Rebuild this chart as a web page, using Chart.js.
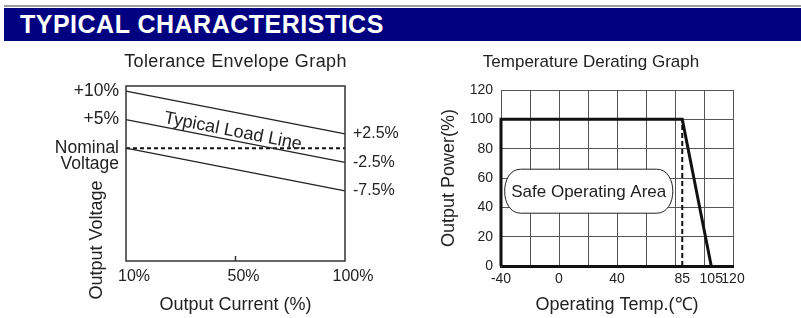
<!DOCTYPE html>
<html>
<head>
<meta charset="utf-8">
<script src="https://cdn.jsdelivr.net/npm/chart.js@4.4.1/dist/chart.umd.min.js"></script>
<style>
    html, body { margin: 0; padding: 0; background: #fff; }
    body { width: 801px; height: 318px; position: relative; overflow: hidden; font-family: "Liberation Sans", Arial, sans-serif; }
    .rule { position: absolute; left: 4px; top: 5px; width: 797px; height: 2px; background: #9c9c9c; }
    .banner { position: absolute; left: 4px; top: 8px; width: 797px; height: 33px; background: #000080; color: #fff;
              font-weight: bold; font-size: 25px; line-height: 33px; padding-left: 16px; box-sizing: border-box; letter-spacing: 0.5px; }
    .panel { position: absolute; top: 45px; }
    #toleranceChart { left: 0; }
    #deratingChart { left: 430px; }
</style>
</head>
<body>
<div class="rule"></div>
<div class="banner">TYPICAL CHARACTERISTICS</div>
<canvas id="toleranceChart" class="panel" width="400" height="273"></canvas>
<canvas id="deratingChart" class="panel" width="371" height="273"></canvas>

<script>
// Tolerance envelope data
const currentLabels = ['10%', '50%', '100%'];
const upperLimit = [10, null, 2.5];
const loadLine = [5, null, -2.5];
const lowerLimit = [0, null, -7.5];
const nominalLine = [0, null, 0];
const voltageTicks = [10, 5, 0, -2.9];
const voltageTickLabels = ['+10%', '+5%', 'Nominal', 'Voltage'];
const rightTicks = [2.5, -2.5, -7.5];
const rightTickLabels = ['+2.5%', '-2.5%', '-7.5%'];

// Temperature derating data
const deratingTemps = [-40, -40, 85, 105];
const deratingPower = [0, 100, 100, 0];
const limitTemps = [85, 85];
const limitPower = [0, 100];
const tempGridValues = [-20, 0, 20, 40, 60, 80, 100, 120];
const tempTickLabels = [-40, 0, 40, 85, 105, 120];

const FONT = '"Liberation Sans", Arial, sans-serif';
Chart.defaults.font.family = FONT;
Chart.defaults.color = '#222';

// Frame, titles and the load line caption on the left graph
const toleranceDecor = {
    id: 'toleranceDecor',
    afterDraw(chart) {
        const { ctx, chartArea: a, scales } = chart;
        ctx.save();
        ctx.strokeStyle = '#333';
        ctx.lineWidth = 1.5;
        ctx.strokeRect(a.left, a.top, a.width, a.height);

        const mx = scales.x.getPixelForValue(1);
        ctx.beginPath();
        ctx.moveTo(mx, a.bottom);
        ctx.lineTo(mx, a.bottom - 5);
        ctx.stroke();

        ctx.fillStyle = '#222';
        ctx.textAlign = 'center';
        ctx.textBaseline = 'middle';
        ctx.font = '18px ' + FONT;
        ctx.letterSpacing = '0.4px';
        ctx.fillText('Tolerance Envelope Graph', (a.left + a.right) / 2, 17);
        ctx.letterSpacing = '0px';

        ctx.save();
        ctx.translate(97, 195);
        ctx.rotate(-Math.PI / 2);
        ctx.font = '18px ' + FONT;
        ctx.fillText('Output Voltage', 0, 0);
        ctx.restore();

        const x0 = scales.x.getPixelForValue(0), x1 = scales.x.getPixelForValue(2);
        const y0 = scales.y.getPixelForValue(loadLine[0]), y1 = scales.y.getPixelForValue(loadLine[2]);
        const ang = Math.atan2(y1 - y0, x1 - x0);
        const cx = x0 + (x1 - x0) * 0.48, cy = y0 + (y1 - y0) * 0.48;
        ctx.translate(cx + Math.sin(ang) * 9, cy - Math.cos(ang) * 9);
        ctx.rotate(ang);
        ctx.font = '18px ' + FONT;
        ctx.fillText('Typical Load Line', 0, 0);
        ctx.restore();
    }
};

// Safe operating area label and title on the right graph
const deratingDecor = {
    id: 'deratingDecor',
    beforeDatasetsDraw(chart) {
        const { ctx, scales } = chart;
        const x0 = scales.x.getPixelForValue(-37.5), x1 = scales.x.getPixelForValue(78.5);
        const y0 = scales.y.getPixelForValue(66), y1 = scales.y.getPixelForValue(36);
        const r = 16;
        ctx.save();
        ctx.beginPath();
        ctx.moveTo(x0 + r, y0);
        ctx.lineTo(x1 - r, y0);
        ctx.bezierCurveTo(x1 + r / 3, y0, x1 + r / 3, y1, x1 - r, y1);
        ctx.lineTo(x0 + r, y1);
        ctx.bezierCurveTo(x0 - r / 3, y1, x0 - r / 3, y0, x0 + r, y0);
        ctx.closePath();
        ctx.fillStyle = '#fff';
        ctx.fill();
        ctx.strokeStyle = '#222';
        ctx.lineWidth = 1;
        ctx.stroke();
        ctx.fillStyle = '#222';
        ctx.textAlign = 'center';
        ctx.textBaseline = 'middle';
        ctx.font = '17px ' + FONT;
        ctx.fillText('Safe Operating Area', (x0 + x1) / 2, (y0 + y1) / 2 + 1);
        ctx.restore();
    },
    afterDraw(chart) {
        const { ctx, chartArea: a } = chart;
        ctx.save();
        ctx.fillStyle = '#222';
        ctx.textAlign = 'center';
        ctx.textBaseline = 'middle';
        ctx.font = '17px ' + FONT;
        ctx.fillText('Temperature Derating Graph', a.left + 90, 17);
        ctx.restore();
    }
};

function envelopeLine(data, extra) {
    return Object.assign({
        data,
        borderColor: '#222',
        borderWidth: 1.3,
        pointRadius: 0,
        spanGaps: true,
        tension: 0
    }, extra);
}

new Chart(document.getElementById('toleranceChart'), {
    type: 'line',
    data: {
        labels: currentLabels,
        datasets: [
            envelopeLine(upperLimit),
            envelopeLine(loadLine),
            envelopeLine(lowerLimit),
            envelopeLine(nominalLine, { borderDash: [4, 3], borderWidth: 2, borderColor: '#111' })
        ]
    },
    options: {
        responsive: false,
        animation: false,
        layout: { padding: { top: 41, left: 0, right: 0, bottom: 0 } },
        plugins: { legend: { display: false }, tooltip: { enabled: false } },
        scales: {
            x: {
                type: 'category',
                offset: false,
                grid: { display: false, drawTicks: false },
                border: { display: false },
                ticks: { padding: 6, labelOffset: 8, font: { size: 16 }, maxRotation: 0, autoSkip: false },
                title: { display: true, text: 'Output Current (%)', font: { size: 18 }, padding: { top: 0, bottom: 2 } },
                afterFit: s => { s.height = 57; }
            },
            y: {
                position: 'left',
                min: -19.8,
                max: 10.9,
                grid: { display: false, drawTicks: false },
                border: { display: false },
                afterBuildTicks: s => { s.ticks = voltageTicks.map(v => ({ value: v })); },
                ticks: { padding: 7, font: { size: 17.5 }, callback: v => voltageTickLabels[voltageTicks.indexOf(v)] },
                afterFit: s => { s.width = 126; }
            },
            y2: {
                position: 'right',
                min: -19.8,
                max: 10.9,
                grid: { display: false, drawTicks: false },
                border: { display: false },
                afterBuildTicks: s => { s.ticks = rightTicks.map(v => ({ value: v })); },
                ticks: { padding: 8, font: { size: 16 }, callback: v => rightTickLabels[rightTicks.indexOf(v)] },
                afterFit: s => { s.width = 55; }
            }
        }
    },
    plugins: [toleranceDecor]
});

const gridColor = '#555';

new Chart(document.getElementById('deratingChart'), {
    type: 'line',
    data: {
        datasets: [
            {
                data: deratingTemps.map((t, i) => ({ x: t, y: deratingPower[i] })),
                borderColor: '#111',
                borderWidth: 3,
                pointRadius: 0,
                tension: 0,
                clip: false,
                borderJoinStyle: 'miter'
            },
            {
                data: limitTemps.map((t, i) => ({ x: t, y: limitPower[i] })),
                borderColor: '#111',
                borderWidth: 2,
                borderDash: [5, 3],
                pointRadius: 0,
                clip: false
            }
        ]
    },
    options: {
        responsive: false,
        animation: false,
        layout: { padding: { top: 45, left: 0, right: 68, bottom: 0 } },
        plugins: { legend: { display: false }, tooltip: { enabled: false } },
        scales: {
            x: {
                type: 'linear',
                min: -40,
                max: 120,
                afterBuildTicks: s => {
                    const vals = [...new Set([...tempGridValues, ...tempTickLabels])].sort((a, b) => a - b);
                    s.ticks = vals.map(v => ({ value: v }));
                },
                grid: {
                    drawTicks: false,
                    lineWidth: 1,
                    color: c => (c.tick && tempGridValues.includes(c.tick.value)) ? gridColor : 'rgba(0,0,0,0)'
                },
                border: { color: '#111', width: 3 },
                ticks: {
                    padding: 5,
                    font: { size: 14 },
                    maxRotation: 0,
                    autoSkip: false,
                    callback: v => tempTickLabels.includes(v) ? String(v) : ''
                },
                title: { display: true, text: 'Operating Temp.(℃)', font: { size: 18 }, padding: { top: 0, bottom: 2 } },
                afterFit: s => { s.height = 52; }
            },
            y: {
                min: 0,
                max: 120,
                ticks: { stepSize: 20, padding: 8, font: { size: 14 } },
                grid: { drawTicks: false, color: gridColor, lineWidth: 1 },
                border: { color: gridColor, width: 1 },
                title: { display: true, text: 'Output Power(%)', font: { size: 18 }, padding: { top: 8, bottom: 0 } },
                afterFit: s => { s.width = 71; }
            }
        }
    },
    plugins: [deratingDecor]
});
</script>
</body>
</html>
